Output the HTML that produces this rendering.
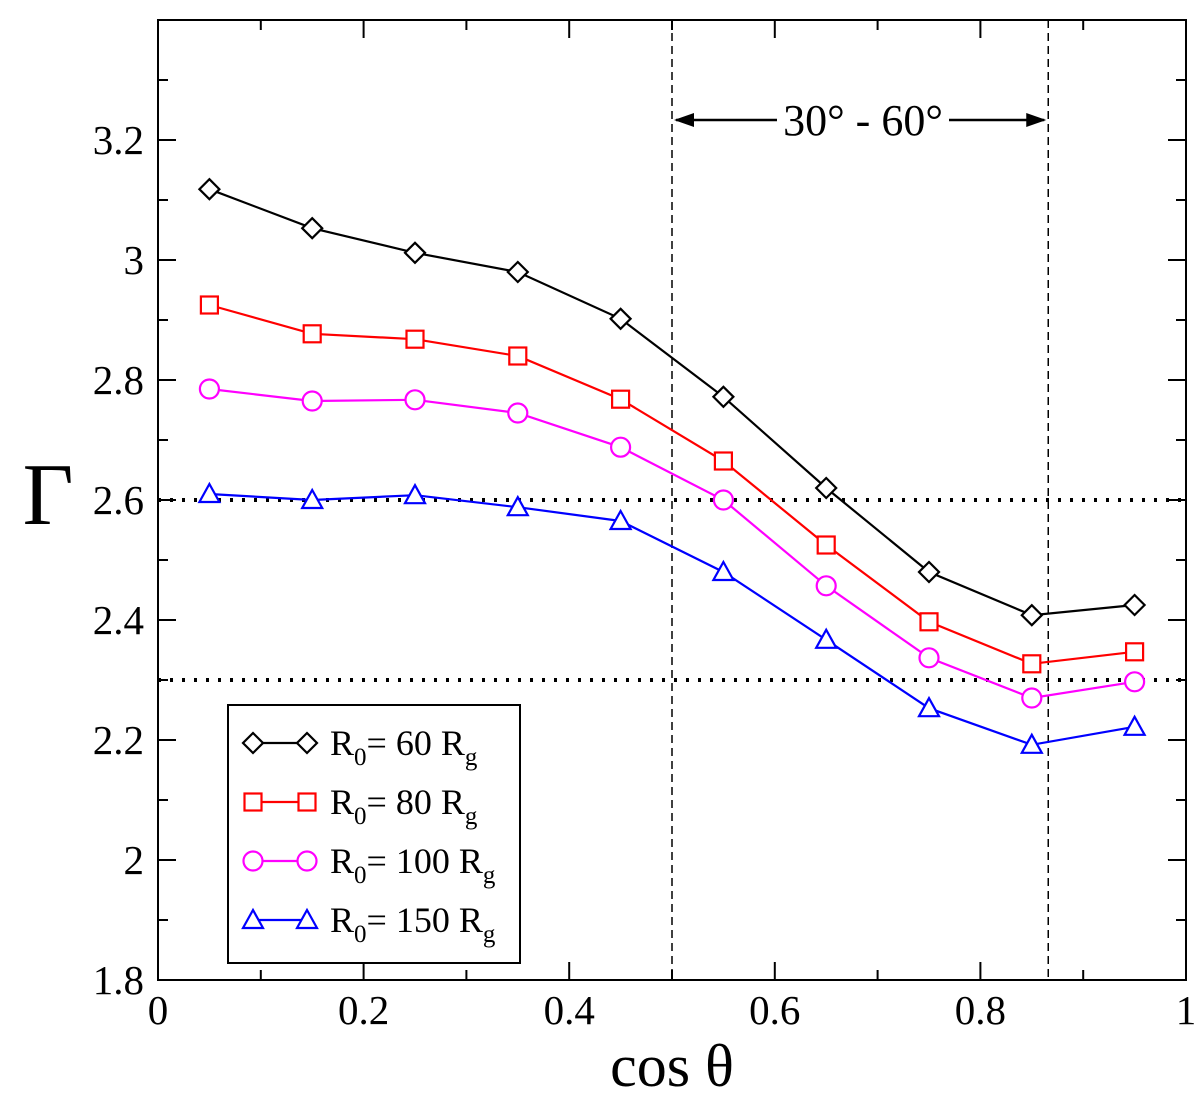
<!DOCTYPE html>
<html><head><meta charset="utf-8"><style>
body{margin:0;background:#fff}
text{font-family:"Liberation Serif",serif}
</style></head><body>
<svg id="chart" width="1200" height="1100" xmlns="http://www.w3.org/2000/svg">
<rect width="1200" height="1100" fill="#fff"/>
<g id="plot"></g>
</svg>
<script>
const xs = [0.05,0.15,0.25,0.35,0.45,0.55,0.65,0.75,0.85,0.95];
const r60 = [3.118,3.053,3.012,2.98,2.902,2.772,2.62,2.48,2.408,2.425];
const r80 = [2.925,2.877,2.868,2.84,2.768,2.665,2.525,2.397,2.327,2.347];
const r100 = [2.785,2.765,2.767,2.745,2.688,2.6,2.457,2.337,2.27,2.297];
const r150 = [2.61,2.6,2.608,2.588,2.565,2.48,2.367,2.253,2.192,2.222];
const xTicks = ["0","0.2","0.4","0.6","0.8","1"];
const yTicks = ["1.8","2","2.2","2.4","2.6","2.8","3","3.2"];
const hLines = [2.6,2.3];
const vLines = [0.5,0.866];

const NS="http://www.w3.org/2000/svg";
const L=158,R=1186,T=20,B=980;
const X=v=>L+(R-L)*v;
const Y=v=>B-(v-1.8)/1.6*(B-T);
const g=document.getElementById('plot');
function el(tag,attrs,parent){const e=document.createElementNS(NS,tag);for(const k in attrs)e.setAttribute(k,attrs[k]);(parent||g).appendChild(e);return e;}

hLines.forEach(v=>{const e=el('line',{x1:L,x2:R,y1:Y(v),y2:Y(v),stroke:'#000','stroke-width':4,'stroke-dasharray':'3,9'});

});
vLines.forEach(v=>{const e=el('line',{x1:X(v),x2:X(v),y1:T,y2:B,stroke:'#000','stroke-width':1.5,'stroke-dasharray':'8,5'});

});

const ay=120;
const ar=el('g',{});


el('line',{x1:X(vLines[0])+4,x2:X(vLines[1])-4,y1:ay,y2:ay,stroke:'#000','stroke-width':2.5},ar);
el('path',{d:`M${X(vLines[0])+2},${ay} l20,-7 l0,14 z`,fill:'#000'},ar);
el('path',{d:`M${X(vLines[1])-2},${ay} l-20,-7 l0,14 z`,fill:'#000'},ar);
el('rect',{x:777,y:ay-26,width:172,height:52,fill:'#fff'},ar);
const at=el('text',{x:863,y:ay+15,'font-size':44,'text-anchor':'middle'},ar);at.textContent='30° - 60°';

const fr=el('rect',{x:L,y:T,width:R-L,height:B-T,fill:'none',stroke:'#000','stroke-width':2});



for(let i=0;i<=10;i++){const x=X(i/10),len=i%2?10:18;
el('line',{x1:x,x2:x,y1:B,y2:B-len,stroke:'#000','stroke-width':2});
el('line',{x1:x,x2:x,y1:T,y2:T+len,stroke:'#000','stroke-width':2});}
for(let i=0;i<=16;i++){const y=Y(1.8+i*0.1),len=i%2?10:18;
el('line',{x1:L,x2:L+len,y1:y,y2:y,stroke:'#000','stroke-width':2});
el('line',{x1:R,x2:R-len,y1:y,y2:y,stroke:'#000','stroke-width':2});}
xTicks.forEach(t=>{const e=el('text',{x:X(parseFloat(t)),y:B+44,'font-size':41,'text-anchor':'middle'});e.textContent=t;

});
yTicks.forEach(t=>{const e=el('text',{x:L-14,y:Y(parseFloat(t))+14,'font-size':41,'text-anchor':'end'});e.textContent=t;

});
const xt=el('text',{x:672,y:1086,'font-size':60,'text-anchor':'middle'});xt.textContent='cos θ';


const yt=el('text',{x:48,y:524,'font-size':88,'text-anchor':'middle'});yt.textContent='Γ';



function marker(type,x,y,c,p){
 if(type==='d')el('path',{d:`M${x},${y-10} L${x+10},${y} L${x},${y+10} L${x-10},${y} Z`,fill:'#fff',stroke:c,'stroke-width':2.2},p);
 else if(type==='s')el('rect',{x:x-8.5,y:y-8.5,width:17,height:17,fill:'#fff',stroke:c,'stroke-width':2.2},p);
 else if(type==='c')el('circle',{cx:x,cy:y,r:9.5,fill:'#fff',stroke:c,'stroke-width':2.2},p);
 else el('path',{d:`M${x},${y-10} L${x+10},${y+8} L${x-10},${y+8} Z`,fill:'#fff',stroke:c,'stroke-width':2.2},p);
}
const series=[[r60,'#000','d','60','series-r60'],[r80,'#ff0000','s','80','series-r80'],[r100,'#ff00ff','c','100','series-r100'],[r150,'#0000ff','t','150','series-r150']];
series.forEach(([d,c,m,n,name])=>{
 const sg=el('g',{});
 
 
 el('polyline',{points:xs.map((x,i)=>X(x)+','+Y(d[i])).join(' '),fill:'none',stroke:c,'stroke-width':2.2},sg);
 xs.forEach((x,i)=>marker(m,X(x),Y(d[i]),c,sg));
});

const lg=el('g',{});


el('rect',{x:228,y:705,width:292,height:258,fill:'#fff',stroke:'#000','stroke-width':2},lg);
series.forEach(([d,c,m,n],i)=>{
 const y=743+i*59;
 const eg=el('g',{},lg);
 
 
 el('line',{x1:253,x2:307,y1:y,y2:y,stroke:c,'stroke-width':2.2},eg);
 marker(m,253,y,c,eg);marker(m,307,y,c,eg);
 const t=el('text',{x:330,y:y+12,'font-size':36},eg);
 t.innerHTML=`R<tspan font-size="25" dy="10">0</tspan><tspan dy="-10">= ${n} R</tspan><tspan font-size="25" dy="10">g</tspan>`;
});
</script>
</body></html>
